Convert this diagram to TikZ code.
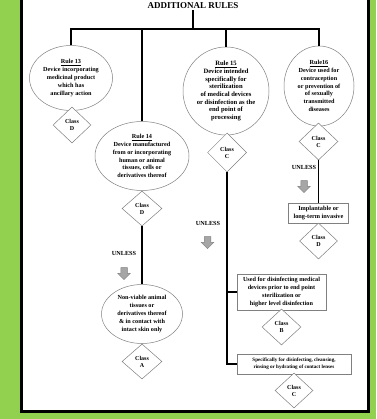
\documentclass[tikz,border=0pt]{standalone}
\usepackage{fontspec}
\setmainfont{Liberation Serif}
\usetikzlibrary{shapes.geometric,shapes.arrows}
\definecolor{bggreen}{HTML}{92D050}
\definecolor{shapeline}{HTML}{808080}
\definecolor{arrowfill}{HTML}{A6A6A6}
\definecolor{arrowline}{HTML}{7F7F7F}
\begin{document}
\begin{tikzpicture}[x=1pt,y=-1pt,
  conn/.style={line width=1.6pt, black},
  ell/.style={ellipse, draw=shapeline, line width=0.5pt, inner sep=0pt, align=center,
    font=\bfseries\fontsize{6.2}{7.8}\selectfont},
  dia/.style={diamond, draw=shapeline, line width=0.5pt, inner sep=0pt, align=center, fill=white,
    font=\bfseries\fontsize{6}{7}\selectfont},
  rbox/.style={rectangle, draw=shapeline, line width=0.6pt, inner sep=0pt, align=center, fill=white,
    font=\bfseries\fontsize{6.2}{7.8}\selectfont},
  unl/.style={font=\bfseries\fontsize{6.2}{7}\selectfont, inner sep=0pt},
  garrow/.style={single arrow, draw=arrowline, fill=arrowfill, line width=0.5pt, shape border rotate=270,
    minimum height=12pt, minimum width=12pt, single arrow head extend=3pt, inner sep=3pt}
]
% frame
\fill[bggreen] (0,0) rectangle (376,419);
\useasboundingbox (0,0) rectangle (376,419);
\fill[black] (20,0) rectangle (369.5,412.5);
\fill[white] (22.5,0) rectangle (366.5,409.5);

% title
\node[font=\bfseries\fontsize{9}{10}\selectfont, inner sep=1pt] (title) at (193,5.5) {ADDITIONAL RULES};
\coordinate (j) at (193,29);

% rule nodes
\node[ell, minimum width=83pt, minimum height=65pt] (r13) at (71,78)
  {\underline{Rule 13}\\Device incorporating\\medicinal product\\which has\\ancillary action};
\node[dia, minimum width=38pt, minimum height=36pt] (d13) at (72,125) {Class\\D};

\node[ell, minimum width=94pt, minimum height=69pt] (r14) at (142,156)
  {\underline{Rule 14}\\Device manufactured\\from or incorporating\\human or animal\\tissues, cells or\\derivatives thereof};
\node[dia, minimum width=40pt, minimum height=35pt] (d14) at (142,208.5) {Class\\D};
\node[unl] (u14) at (124,253) {UNLESS};
\node[garrow] (a14) at (124,272) {};
\node[ell, minimum width=81pt, minimum height=59pt] (nv) at (142,314)
  {Non-viable animal\\tissues or\\derivatives thereof\\\& in contact with\\intact skin only};
\node[dia, minimum width=40pt, minimum height=35pt] (dA) at (142,361.5) {Class\\A};

\node[ell, minimum width=86pt, minimum height=88pt, font=\bfseries\fontsize{6.6}{7.7}\selectfont] (r15) at (226,91)
  {\underline{Rule 15}\\Device intended\\specifically for\\sterilization\\of medical devices\\or disinfection as the\\end point of\\processing};
\node[dia, minimum width=39pt, minimum height=39pt] (d15) at (227,152.5) {Class\\C};
\node[unl] (u15) at (208,223) {UNLESS};
\node[garrow] (a15) at (207.5,241) {};
\node[rbox, minimum width=89pt, minimum height=36pt] (b1) at (281.5,292)
  {Used for disinfecting medical\\devices prior to end point\\sterilization or\\higher level disinfection};
\node[dia, minimum width=39pt, minimum height=36pt] (dB) at (281.5,327) {Class\\B};
\node[rbox, minimum width=114pt, minimum height=20pt, font=\bfseries\fontsize{5.1}{7.2}\selectfont] (b2) at (294,364)
  {Specifically for disinfecting, cleansing,\\rinsing or hydrating of contact lenses};
\node[dia, minimum width=38pt, minimum height=35pt] (dC) at (294,390.5) {Class\\C};

\node[ell, minimum width=70pt, minimum height=80pt] (r16) at (319,86)
  {\underline{Rule16}\\Device used for\\contraception\\or prevention of\\of sexually\\transmitted\\diseases};
\node[dia, minimum width=39pt, minimum height=37pt] (d16) at (318.5,141.5) {Class\\C};
\node[unl] (u16) at (304,167) {UNLESS};
\node[garrow] (a16) at (304,185) {};
\node[rbox, minimum width=60pt, minimum height=20pt, font=\bfseries\fontsize{6.3}{7.8}\selectfont] (b16) at (318.5,213)
  {Implantable or\\long-term invasive};
\node[dia, minimum width=38pt, minimum height=36pt] (dD) at (318.5,241) {Class\\D};

% connectors
\draw[conn] (title.south) -- (j);
\draw[conn] (r13.north) -- (r13.north|-j) -- (r16.north|-j) -- (r16.north);
\draw[conn] (r14.north) -- (r14.north|-j);
\draw[conn] (r15.north) -- (r15.north|-j);
\draw[conn] (d14.south) -- (nv.north);
\draw[conn] (d15.south) |- (b2.west);
\draw[conn] (b1.west) -- (b1.west-|d15.south);
\draw[conn] (d16.south) -- (b16.north);
\end{tikzpicture}
\end{document}
